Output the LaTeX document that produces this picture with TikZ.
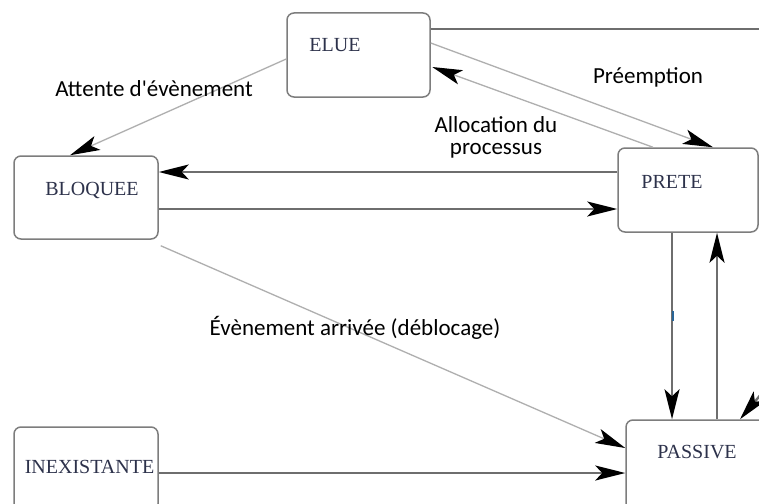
\documentclass[tikz,border=0pt]{standalone}
\usepackage{fontspec}
\setmainfont{Liberation Serif}
\newfontfamily\lblfont{Carlito}
\usetikzlibrary{arrows.meta}
\definecolor{boxline}{RGB}{125,125,125}
\definecolor{statetxt}{RGB}{45,50,75}
\definecolor{thickln}{RGB}{110,110,110}
\definecolor{thinln}{RGB}{175,175,175}
\definecolor{markblue}{RGB}{40,100,150}
\tikzset{
  statebox/.style={draw=boxline, line width=1.5pt, rounded corners=7pt, fill=white, inner sep=0pt},
  statelabel/.style={anchor=base, inner sep=0pt, text=statetxt, font=\fontsize{20}{22}\selectfont},
  edgelabel/.style={anchor=base, inner sep=0pt, align=center, font=\lblfont\fontsize{23}{22}\selectfont},
  tip/.style={-{Stealth[length=30pt,width=15pt,inset=7pt,color=black]}},
  thickedge/.style={draw=thickln, line width=2.4pt},
  thinedge/.style={draw=thinln, line width=1.3pt},
}
\begin{document}
\begin{tikzpicture}[x=1pt,y=-1pt]
\useasboundingbox (0,0) rectangle (759,503);
\clip (0,0) rectangle (759,503);
\fill[white] (0,0) rectangle (759,503);

% state boxes
\node[statebox, minimum width=143pt, minimum height=84pt] (elue) at (358.5,55) {};
\node[statebox, minimum width=140pt, minimum height=84pt] (prete) at (688,190) {};
\node[statebox, minimum width=144pt, minimum height=83pt] (bloquee) at (86,197.5) {};
\node[statebox, minimum width=144pt, minimum height=84pt] (inex) at (86,469) {};
\node[statebox, minimum width=170pt, minimum height=96pt] (passive) at (711,468) {};

\node[statelabel] (tElue) at (335,52) {ELUE};
\node[statelabel] (tPrete) at (672,188) {PRETE};
\node[statelabel] (tBloq) at (92,195) {BLOQUEE};
\node[statelabel] (tInex) at (89.5,473) {INEXISTANTE};
\node[statelabel] (tPass) at (697,458) {PASSIVE};

% off-picture ends
\coordinate (offTop) at (790,29);
\coordinate (offPass) at (800,348);

% connectors
\draw[thickedge] ([yshift=26pt]elue.east) -- (offTop);
\draw[thinedge, tip] ([yshift=12pt]elue.east) -- ([xshift=25pt]prete.north);
\draw[thinedge, tip] ([xshift=-35pt]prete.north) -- ([xshift=1.5pt,yshift=-12pt]elue.east);
\draw[thinedge, tip] ([yshift=-4pt]elue.west) -- ([xshift=-16pt]bloquee.north);
\draw[thickedge, tip] ([yshift=18pt]prete.west) -- ([yshift=25.5pt]bloquee.east);
\draw[thickedge, tip] ([yshift=-11.5pt]bloquee.east) -- ([yshift=-19pt]prete.west);
\draw[thinedge, tip] (bloquee.south east) ++(2pt,-6pt) coordinate (bq) (bq) -- ([yshift=20pt]passive.west);
\draw[thickedge, tip] (inex.east |- 0,473) -- (passive.west |- 0,473);
\draw[thickedge, tip] ([xshift=-16pt]prete.south) -- ([xshift=-39pt]passive.north);
\draw[thickedge, tip] ([xshift=6pt]passive.north) -- ([xshift=29pt]prete.south);
\draw[thickedge, tip] (offPass) -- ([xshift=29pt]passive.north);

% small blue mark on the PRETE-PASSIVE line
\fill[markblue] (671.5,311) rectangle (674,321);

% labels
\node[edgelabel] (lAtt) at (154,96) {Attente d'évènement};
\node[edgelabel] (lPre) at (648,83) {Préemption};
\node[edgelabel] (lAll) at (496,154) {Allocation du\\processus};
\node[edgelabel] (lEve) at (355,335) {Évènement arrivée (déblocage)};
\end{tikzpicture}
\end{document}
